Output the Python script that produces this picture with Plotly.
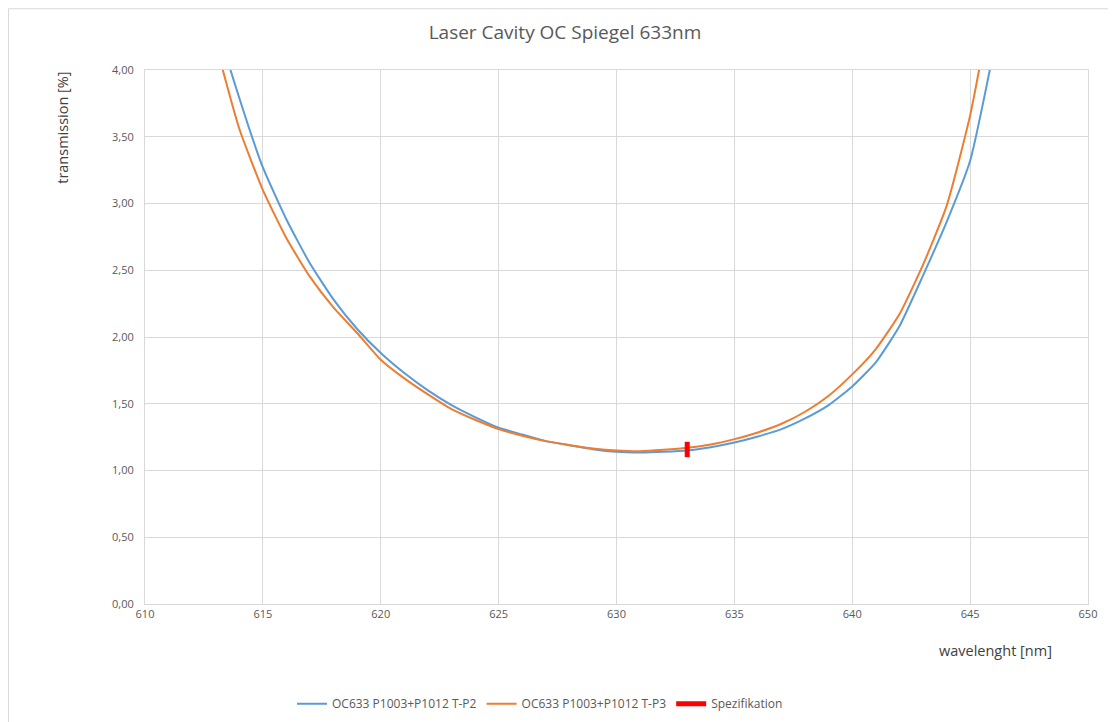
import plotly.graph_objects as go

# wavelength grid [nm]
wavelength = [612, 613, 614, 615, 616, 617, 618, 619, 620, 621, 622, 623, 624, 625,
              626, 627, 628, 629, 630, 631, 632, 633, 634, 635, 636, 637, 638, 639,
              640, 641, 642, 643, 644, 645, 646, 647]

# OC633 P1003+P1012 T-P2 transmission [%]
t_p2 = [5.10, 4.38, 3.79, 3.27, 2.88, 2.55, 2.28, 2.06, 1.88, 1.73, 1.60, 1.49, 1.40, 1.32,
        1.27, 1.22, 1.19, 1.16, 1.14, 1.135, 1.14, 1.15, 1.175, 1.21, 1.255, 1.31, 1.39, 1.49,
        1.63, 1.81, 2.08, 2.46, 2.86, 3.32, 4.15, 5.20]

# OC633 P1003+P1012 T-P3 transmission [%]
t_p3 = [4.95, 4.20, 3.56, 3.10, 2.74, 2.45, 2.22, 2.03, 1.83, 1.69, 1.57, 1.46, 1.38, 1.31,
        1.26, 1.22, 1.19, 1.165, 1.15, 1.145, 1.155, 1.17, 1.195, 1.235, 1.285, 1.35, 1.44, 1.56,
        1.72, 1.91, 2.17, 2.54, 2.98, 3.66, 4.60, 5.80]

# specification marker
spec_x = [633, 633]
spec_y = [1.10, 1.215]

x_ticks = [610, 615, 620, 625, 630, 635, 640, 645, 650]
y_ticks = [0, 0.5, 1.0, 1.5, 2.0, 2.5, 3.0, 3.5, 4.0]

FONT = "Open Sans"
OFF = 8  # page body margin
W, H = 1116, 722
L, T = 145 - OFF, 70 - OFF
R = W - (1088 - OFF)
B = H - (606 - OFF)
pw, ph = W - L - R, H - T - B


def px_to_paper_x(px):
    return (px - OFF - L) / pw


def px_to_paper_y(py):
    return (H - B - (py - OFF)) / ph


fig = go.Figure()
fig.add_trace(go.Scatter(x=wavelength, y=t_p2, mode="lines",
                         name="OC633 P1003+P1012 T-P2",
                         line=dict(color="#5b9bd5", width=2, shape="spline", smoothing=0.5)))
fig.add_trace(go.Scatter(x=wavelength, y=t_p3, mode="lines",
                         name="OC633 P1003+P1012 T-P3",
                         line=dict(color="#ed7d31", width=2, shape="spline", smoothing=0.5)))
fig.add_trace(go.Scatter(x=spec_x, y=spec_y, mode="lines",
                         name="Spezifikation",
                         line=dict(color="#ff0000", width=5)))

axis_common = dict(showgrid=True, gridcolor="#d9d9d9", gridwidth=1,
                   zeroline=False, showline=True, linecolor="#d9d9d9",
                   linewidth=1, mirror=True, ticks="",
                   tickfont=dict(family=FONT, size=11, color="#595959"))

fig.update_layout(
    width=W, height=H,
    margin=dict(l=L, r=R, t=T, b=B),
    paper_bgcolor="white", plot_bgcolor="white",
    separators=",.",
    title=dict(text="Laser Cavity OC Spiegel 633nm", x=(565 - OFF) / W, xanchor="center",
               y=1 - (32 - OFF) / H, yanchor="middle",
               font=dict(family=FONT, size=19, color="#595959")),
    xaxis=dict(range=[610, 650], tickvals=x_ticks, **axis_common),
    yaxis=dict(range=[0, 4], tickvals=y_ticks, tickformat=".2f",
               ticklabelstandoff=8, **axis_common),
    showlegend=True,
    legend=dict(orientation="h", x=px_to_paper_x(540), xanchor="center",
                y=px_to_paper_y(706), yanchor="middle",
                font=dict(family=FONT, size=12, color="#595959"),
                itemwidth=30, tracegroupgap=0),
    annotations=[
        dict(text="transmission [%]", xref="paper", yref="paper",
             x=px_to_paper_x(63), y=px_to_paper_y(128), xanchor="center",
             yanchor="middle", textangle=-90, showarrow=False,
             font=dict(family=FONT, size=14.5, color="#404040")),
        dict(text="wavelenght [nm]", xref="paper", yref="paper",
             x=px_to_paper_x(995), y=px_to_paper_y(653), xanchor="center",
             yanchor="middle", showarrow=False,
             font=dict(family=FONT, size=14.5, color="#404040")),
    ],
    shapes=[
        dict(type="rect", xref="paper", yref="paper",
             x0=px_to_paper_x(8.5), y0=px_to_paper_y(760),
             x1=px_to_paper_x(1140), y1=px_to_paper_y(8.5),
             line=dict(color="#d9d9d9", width=1), layer="below"),
    ],
)

fig.write_html("out.html")
